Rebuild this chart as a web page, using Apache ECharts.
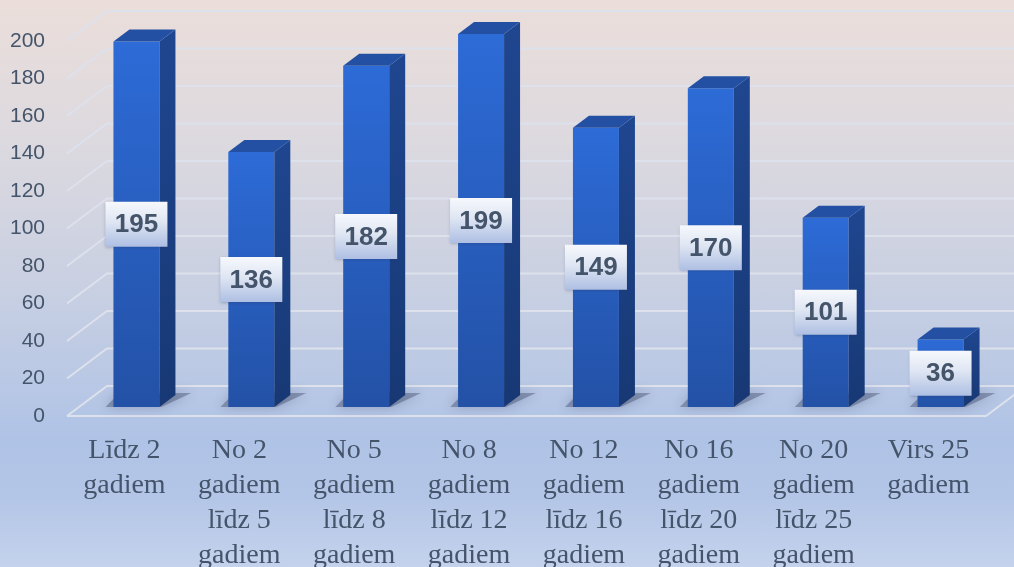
<!DOCTYPE html>
<html>
<head>
<meta charset="utf-8">
<script src="https://cdn.jsdelivr.net/npm/echarts@6/dist/echarts.min.js"></script>
<style>
html, body { margin: 0; padding: 0; }
#c1 {
    width: 1014px; height: 567px;
    background: linear-gradient(to bottom, #ebdeda 0%, #dcd9df 25%, #c9d0e2 50%, #afc3e6 78%, #b4c6e7 88%, #c4d2ec 100%);
}
</style>
</head>
<body>
<div id="c1"></div>
<script>
// chart data
var categories = ['Līdz 2\ngadiem', 'No 2\ngadiem\nlīdz 5\ngadiem', 'No 5\ngadiem\nlīdz 8\ngadiem', 'No 8\ngadiem\nlīdz 12\ngadiem',
    'No 12\ngadiem\nlīdz 16\ngadiem', 'No 16\ngadiem\nlīdz 20\ngadiem', 'No 20\ngadiem\nlīdz 25\ngadiem', 'Virs 25\ngadiem'];
var values = [195, 136, 182, 199, 149, 170, 101, 36];
var yTicks = [0, 20, 40, 60, 80, 100, 120, 140, 160, 180, 200];

// fake 3d depth (pixels)
var DEPTH_X = 40, DEPTH_Y = 30;
var BAR_OX = 12, BAR_OY = 9, BAR_HALF = 23, BAR_DX = 16, BAR_DY = 12;

var dom = document.getElementById("c1");
var myChart = echarts.init(dom, null, {renderer: 'canvas'});

function renderGrid(params, api) {
    var cs = params.coordSys;
    var v = api.value(0);
    var y = api.coord([0, v])[1];
    var x0 = cs.x, x1 = cs.x + cs.width;
    var st = {stroke: '#dde1ec', lineWidth: 2, fill: null};
    var kids = [{
        type: 'polyline',
        shape: {points: [[x0, y], [x0 + DEPTH_X, y - DEPTH_Y], [1020, y - DEPTH_Y]]},
        style: st
    }];
    if (v === 0) {
        kids.push({
            type: 'polyline',
            shape: {points: [[x0, y], [x1, y], [x1 + DEPTH_X, y - DEPTH_Y]]},
            style: st
        });
    }
    return {type: 'group', children: kids};
}

function renderBar(params, api) {
    var i = api.value(0), v = api.value(1);
    var base = api.coord([i, 0]);
    var top = api.coord([i, v]);
    var cx = base[0] + BAR_OX;
    var by = base[1] - BAR_OY;
    var ty = top[1] - BAR_OY;
    var l = cx - BAR_HALF, r = cx + BAR_HALF;
    var midY = (ty + by) / 2;
    return {
        type: 'group',
        children: [
            { // floor shadow
                type: 'polygon',
                shape: {points: [[l - 8, by], [r + 2, by], [r + BAR_DX + 16, by - BAR_DY - 2], [l + 6, by - BAR_DY - 2]]},
                style: {fill: 'rgba(30,40,75,0.32)', shadowBlur: 12, shadowColor: 'rgba(30,40,75,0.8)'},
                z2: 0
            },
            { // front
                type: 'rect',
                shape: {x: l, y: ty, width: r - l, height: by - ty},
                style: {fill: new echarts.graphic.LinearGradient(0, 0, 0, 1, [
                    {offset: 0, color: '#2d6bd7'}, {offset: 1, color: '#2351a6'}])},
                z2: 2
            },
            { // side
                type: 'polygon',
                shape: {points: [[r, ty], [r + BAR_DX, ty - BAR_DY], [r + BAR_DX, by - BAR_DY], [r, by]]},
                style: {fill: new echarts.graphic.LinearGradient(0, 0, 0, 1, [
                    {offset: 0, color: '#1f4690'}, {offset: 1, color: '#173874'}])},
                z2: 2
            },
            { // top
                type: 'polygon',
                shape: {points: [[l, ty], [l + BAR_DX, ty - BAR_DY], [r + BAR_DX, ty - BAR_DY], [r, ty]]},
                style: {fill: '#2350a2'},
                z2: 2
            },
            { // label box
                type: 'rect',
                shape: {x: cx - 31, y: midY - 22.5, width: 62, height: 45},
                style: {
                    fill: new echarts.graphic.LinearGradient(0, 0, 0, 1, [
                        {offset: 0, color: '#f6f8fc'}, {offset: 0.45, color: '#dfe6f3'}, {offset: 1, color: '#aebfe3'}]),
                    shadowBlur: 3, shadowColor: 'rgba(40,50,80,0.3)', shadowOffsetY: 1
                },
                z2: 3
            },
            {
                type: 'text',
                x: cx, y: midY + 1,
                style: {
                    text: String(v), fill: '#44546a',
                    font: 'bold 26px "Liberation Sans", Arial, sans-serif',
                    align: 'center', verticalAlign: 'middle'
                },
                z2: 4
            }
        ]
    };
}

var option = {
    animation: false,
    grid: {left: 67, right: 28, top: 41, bottom: 151, containLabel: false, outerBoundsMode: 'none'},
    xAxis: {
        type: 'category',
        data: categories,
        axisLine: {show: false},
        axisTick: {show: false},
        splitLine: {show: false},
        axisLabel: {
            interval: 0, margin: 17,
            color: '#44546a', fontSize: 28, lineHeight: 35,
            fontFamily: '"Liberation Serif", "Times New Roman", serif'
        }
    },
    yAxis: {
        type: 'value',
        min: 0, max: 200, interval: 20,
        axisLine: {show: false},
        axisTick: {show: false},
        splitLine: {show: false},
        axisLabel: {
            margin: 22, color: '#44546a', fontSize: 21,
            fontFamily: '"Liberation Sans", Arial, sans-serif'
        }
    },
    series: [
        {
            type: 'custom',
            renderItem: renderGrid,
            data: yTicks.map(function (t) { return [t]; }),
            encode: {y: 0},
            silent: true,
            z: 1
        },
        {
            type: 'custom',
            renderItem: renderBar,
            data: values.map(function (v, i) { return [i, v]; }),
            encode: {x: 0, y: 1},
            z: 2
        }
    ]
};
myChart.setOption(option, true);
</script>
</body>
</html>
